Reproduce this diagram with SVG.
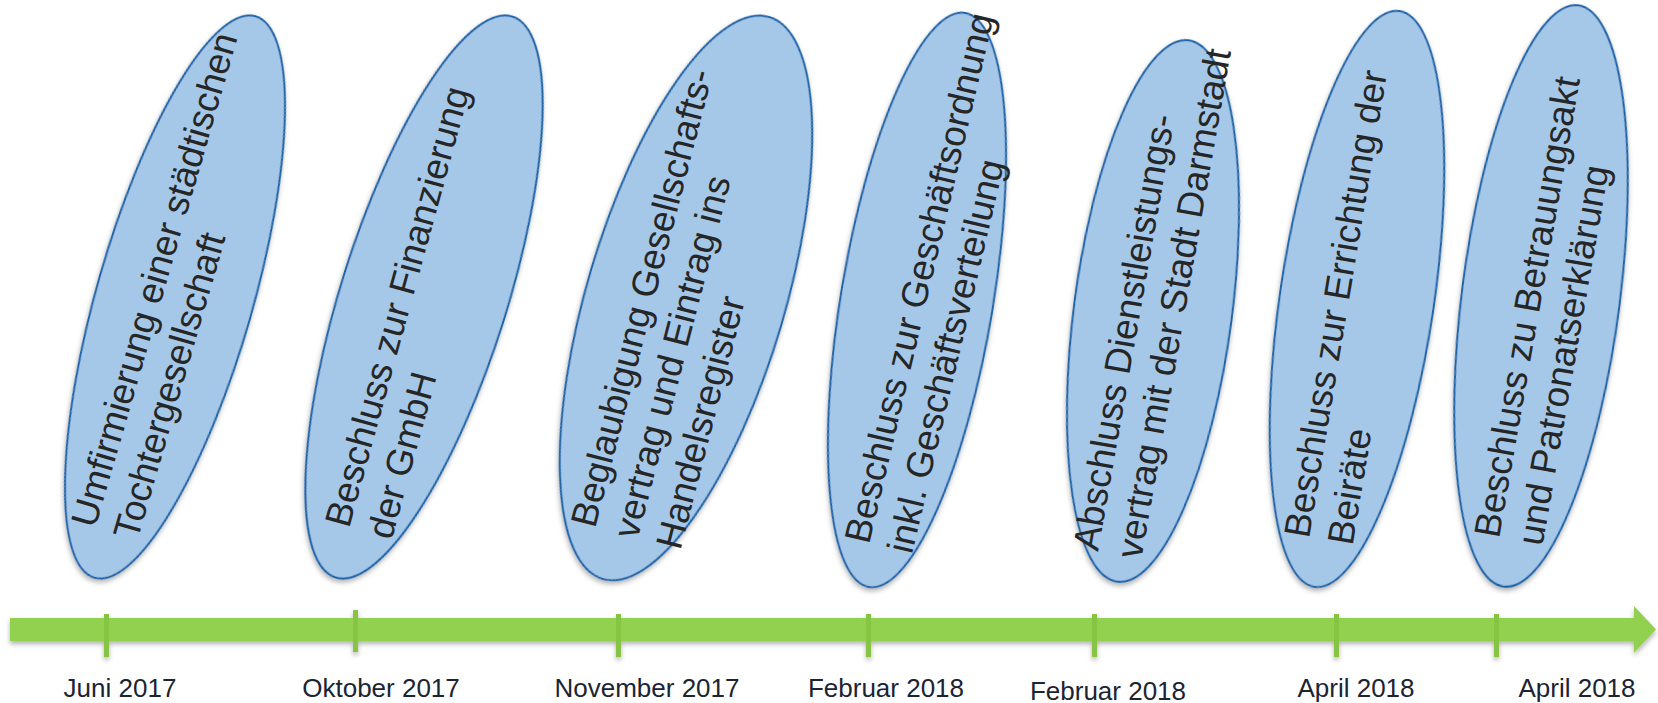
<svg xmlns="http://www.w3.org/2000/svg" width="1658" height="703" viewBox="0 0 1658 703">
<defs>
<filter id="sh" x="-20%" y="-20%" width="140%" height="140%">
<feDropShadow dx="0" dy="3" stdDeviation="2.5" flood-color="#000" flood-opacity="0.3"/>
</filter>
<style>
.ell{fill:#a5c8e9;stroke:#1f62a6;stroke-width:2}
.lbl{font-family:"Liberation Sans",Arial,sans-serif;font-size:37px;fill:#262626}
.date{font-family:"Liberation Sans",Arial,sans-serif;font-size:26px;fill:#1b2433;text-anchor:middle}
.tick{fill:#86c443}
</style>
</defs>
<rect width="1658" height="703" fill="#fff"/>

<g id="connectors">
<g id="timeline" filter="url(#sh)">
<path d="M10 618 H1634 V606 L1656 629.5 L1634 653 V641 H10 Z" fill="#92d050"/>
<rect class="tick" x="104" y="614" width="5" height="43"/>
<rect class="tick" x="353" y="610" width="5" height="42"/>
<rect class="tick" x="616" y="614" width="5" height="43"/>
<rect class="tick" x="866" y="614" width="5" height="43"/>
<rect class="tick" x="1092" y="614" width="5" height="43"/>
<rect class="tick" x="1334" y="614" width="5" height="43"/>
<rect class="tick" x="1494" y="614" width="5" height="43"/>
</g>
</g>

<g id="n1">
<ellipse class="ell" filter="url(#sh)" cx="175" cy="297" rx="78" ry="292" transform="rotate(16 175 297)"/>
<text class="lbl" transform="translate(95 529) rotate(-73.8)"><tspan x="0" y="0">Umfirmierung einer städtischen</tspan><tspan x="0" y="44">Tochtergesellschaft</tspan></text>
</g>
<g id="n2">
<ellipse class="ell" filter="url(#sh)" cx="424" cy="297" rx="83" ry="294" transform="rotate(17.5 424 297)"/>
<text class="lbl" transform="translate(349 529) rotate(-74.6)"><tspan x="0" y="0">Beschluss zur Finanzierung</tspan><tspan x="0" y="44">der GmbH</tspan></text>
</g>
<g id="n3">
<ellipse class="ell" filter="url(#sh)" cx="686" cy="298" rx="99" ry="293" transform="rotate(16.5 686 298)"/>
<text class="lbl" transform="translate(595 529) rotate(-75.5)"><tspan x="0" y="0">Beglaubigung Gesellschafts-</tspan><tspan x="0" y="44">vertrag und Eintrag ins</tspan><tspan x="0" y="88">Handelsregister</tspan></text>
</g>
<g id="n4">
<ellipse class="ell" filter="url(#sh)" cx="917" cy="300" rx="76" ry="291" transform="rotate(9.5 917 300)"/>
<text class="lbl" transform="translate(869 545) rotate(-76.7)"><tspan x="0" y="0">Beschluss zur Geschäftsordnung</tspan><tspan x="0" y="44">inkl. Geschäftsverteilung</tspan></text>
</g>
<g id="n5">
<ellipse class="ell" filter="url(#sh)" cx="1153" cy="311" rx="79" ry="273" transform="rotate(7.5 1153 311)"/>
<text class="lbl" transform="translate(1098 552) rotate(-80)"><tspan x="0" y="0">Abschluss Dienstleistungs-</tspan><tspan x="0" y="44">vertrag mit der Stadt Darmstadt</tspan></text>
</g>
<g id="n6">
<ellipse class="ell" filter="url(#sh)" cx="1357" cy="299" rx="77" ry="291" transform="rotate(8.4 1357 299)"/>
<text class="lbl" transform="translate(1309 539) rotate(-80.5)"><tspan x="0" y="0">Beschluss zur Errichtung der</tspan><tspan x="0" y="44">Beiräte</tspan></text>
</g>
<g id="n7">
<ellipse class="ell" filter="url(#sh)" cx="1541" cy="296" rx="79" ry="293" transform="rotate(7.3 1541 296)"/>
<text class="lbl" transform="translate(1499 539) rotate(-80)"><tspan x="0" y="0">Beschluss zu Betrauungsakt</tspan><tspan x="0" y="44">und Patronatserklärung</tspan></text>
</g>

<g id="dates">
<text class="date" x="120" y="697">Juni 2017</text>
<text class="date" x="381" y="697">Oktober 2017</text>
<text class="date" x="647" y="697">November 2017</text>
<text class="date" x="886" y="697">Februar 2018</text>
<text class="date" x="1108" y="700">Februar 2018</text>
<text class="date" x="1356" y="697">April 2018</text>
<text class="date" x="1577" y="697">April 2018</text>
</g>
</svg>
